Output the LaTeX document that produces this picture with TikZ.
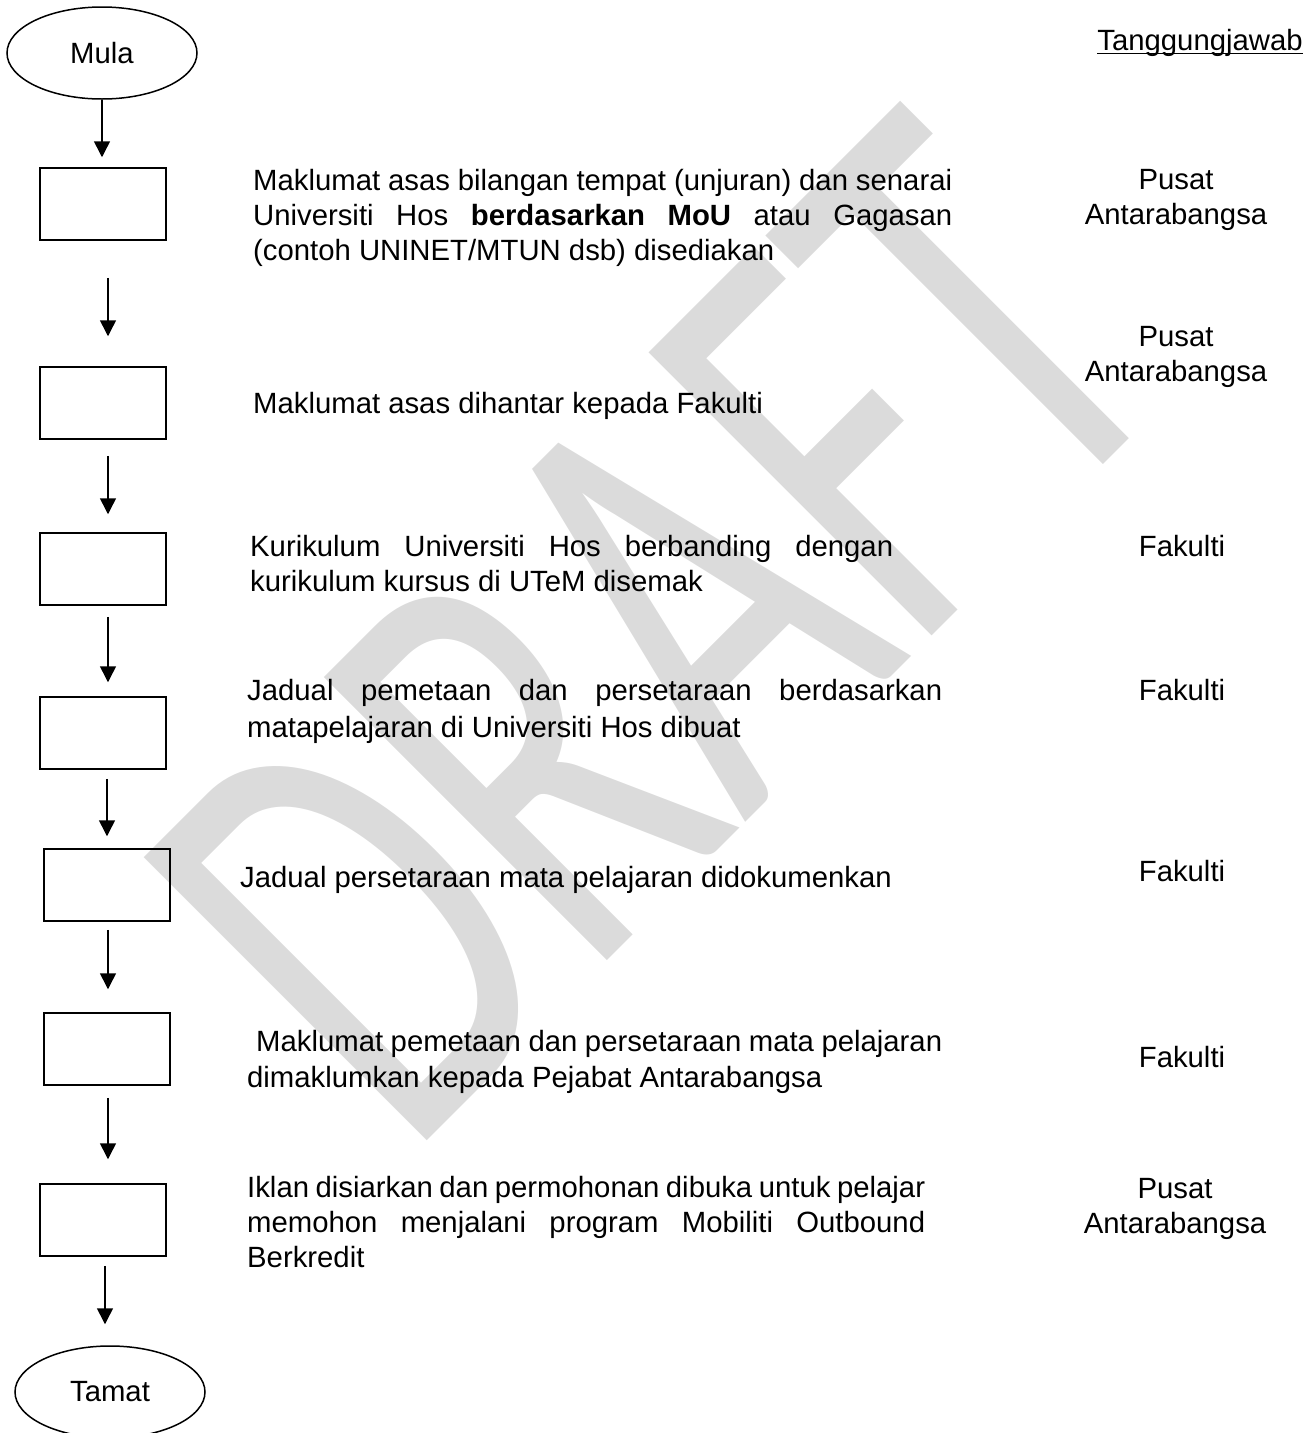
\documentclass[tikz,border=0pt]{standalone}
\usepackage{fontspec}
\setmainfont{Liberation Sans}
\newfontfamily\wmfont{Carlito}
\usetikzlibrary{arrows.meta,shapes.geometric}
\newcommand\fs{\fontsize{29.3pt}{35pt}\selectfont}
\definecolor{wm}{RGB}{219,219,219}
\begin{document}
\begin{tikzpicture}[x=1pt,y=-1pt,
  box/.style={draw,line width=1.5pt,minimum width=126pt,minimum height=72pt,inner sep=0pt},
  term/.style={draw,ellipse,line width=1.5pt,minimum width=190pt,minimum height=92pt,inner sep=0pt,font=\fs},
  flow/.style={line width=1.5pt,-{Triangle[width=16pt,length=16pt]}},
  ln/.style={anchor=base west,inner sep=0pt,font=\fs},
  resp/.style={anchor=base,inner sep=0pt,font=\fs}]
\useasboundingbox (0,0) rectangle (1313,1433);
\clip (0,0) rectangle (1313,1433);
% watermark
\begin{scope}[shift={(431,1137)},rotate=45]
  \node[transform shape,xscale=4.11,yscale=6.24,text=wm,inner sep=0pt,anchor=base west] (wmk) at (-34,0) {\wmfont\fontsize{100pt}{100pt}\selectfont DRAFT};
\end{scope}
% terminals and boxes
\node[term] (start) at (102,53) {Mula};
\node[box] (b1) at (103,204) {};
\node[box] (b2) at (103,403) {};
\node[box] (b3) at (103,569) {};
\node[box] (b4) at (103,733) {};
\node[box] (b5) at (107,885) {};
\node[box] (b6) at (107,1049) {};
\node[box] (b7) at (103,1220) {};
\node[term] (end) at (110,1392) {Tamat};
% connectors
\draw[flow,shorten >=10pt] (start.south) -- (start.south |- b1.north);
\draw[flow,shorten <=37pt,shorten >=30pt] ([xshift=5pt]b1.south) -- ([xshift=5pt]b1.south |- b2.north);
\draw[flow,shorten <=16pt,shorten >=18pt] ([xshift=5pt]b2.south) -- ([xshift=5pt]b2.south |- b3.north);
\draw[flow,shorten <=11pt,shorten >=14pt] ([xshift=5pt]b3.south) -- ([xshift=5pt]b3.south |- b4.north);
\draw[flow,shorten <=9pt,shorten >=12pt] ([xshift=4pt]b4.south) -- ([xshift=4pt]b4.south |- b5.north);
\draw[flow,shorten <=8pt,shorten >=23pt] ([xshift=1pt]b5.south) -- ([xshift=1pt]b5.south |- b6.north);
\draw[flow,shorten <=12pt,shorten >=24pt] ([xshift=1pt]b6.south) -- ([xshift=1pt]b6.south |- b7.north);
\draw[flow,shorten <=9pt,shorten >=21pt] ([xshift=2pt]b7.south) -- ([xshift=2pt]b7.south |- end.north);
% descriptions
\node[ln] (d1a) at (253,190) {\makebox[699pt][s]{Maklumat asas bilangan tempat (unjuran) dan senarai}};
\node[ln] (d1b) at (253,225) {\makebox[699pt][s]{Universiti Hos \textbf{berdasarkan MoU} atau Gagasan}};
\node[ln] (d1c) at (253,260) {(contoh UNINET/MTUN dsb) disediakan};
\node[ln] (d2) at (253,413) {Maklumat asas dihantar kepada Fakulti};
\node[ln] (d3a) at (250,556) {\makebox[643pt][s]{Kurikulum Universiti Hos berbanding dengan}};
\node[ln] (d3b) at (250,591) {kurikulum kursus di UTeM disemak};
\node[ln] (d4a) at (247,700) {\makebox[695pt][s]{Jadual pemetaan dan persetaraan berdasarkan}};
\node[ln] (d4b) at (247,737) {matapelajaran di Universiti Hos dibuat};
\node[ln] (d5) at (240,887) {Jadual persetaraan mata pelajaran didokumenkan};
\node[ln] (d6a) at (256,1051) {\makebox[686pt][s]{Maklumat pemetaan dan persetaraan mata pelajaran}};
\node[ln] (d6b) at (247,1087) {dimaklumkan kepada Pejabat Antarabangsa};
\node[ln] (d7a) at (247,1197) {\makebox[678pt][s]{Iklan disiarkan dan permohonan dibuka untuk pelajar}};
\node[ln] (d7b) at (247,1232) {\makebox[678pt][s]{memohon menjalani program Mobiliti Outbound}};
\node[ln] (d7c) at (247,1267) {Berkredit};
% responsibilities
\node[resp] (ttl) at (1200,50) {Tanggungjawab};
\draw[line width=1.6pt] ([yshift=-3.5pt]ttl.base west) -- ([yshift=-3.5pt]ttl.base east);
\node[resp] (r1a) at (1176,189) {Pusat};
\node[resp] (r1b) at (1176,224) {Antarabangsa};
\node[resp] (r2a) at (1176,346) {Pusat};
\node[resp] (r2b) at (1176,381) {Antarabangsa};
\node[resp] (r3) at (1182,556) {Fakulti};
\node[resp] (r4) at (1182,700) {Fakulti};
\node[resp] (r5) at (1182,881) {Fakulti};
\node[resp] (r6) at (1182,1067) {Fakulti};
\node[resp] (r7a) at (1175,1198) {Pusat};
\node[resp] (r7b) at (1175,1233) {Antarabangsa};
\end{tikzpicture}
\end{document}
